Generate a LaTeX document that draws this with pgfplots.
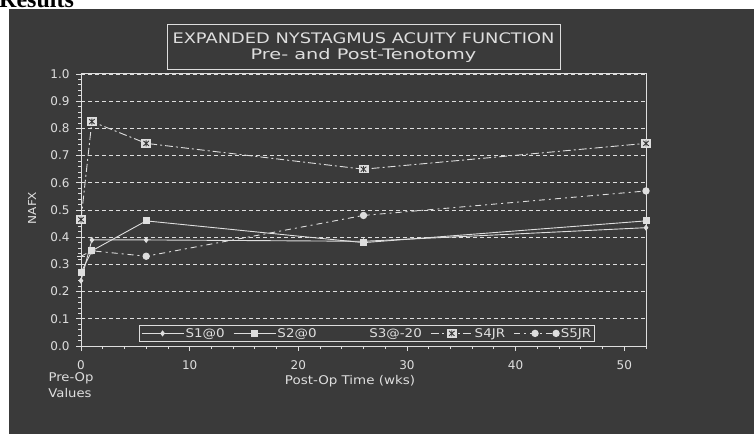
\documentclass[border=0pt]{standalone}
\usepackage{pgfplots}
\pgfplotsset{compat=1.18}
\usepackage{fontspec}
\setmainfont{DejaVu Sans}
\newfontfamily\resfont{Liberation Serif}
\definecolor{bg}{RGB}{58,58,58}
\definecolor{fg}{RGB}{222,222,222}

\pgfdeclareplotmark{boxx}{%
  \pgfpathrectangle{\pgfpoint{-\pgfplotmarksize}{-0.85\pgfplotmarksize}}{\pgfpoint{2\pgfplotmarksize}{1.7\pgfplotmarksize}}%
  \pgfusepath{fill}%
  \pgfsetdash{}{0pt}\pgfsetstrokecolor{bg}\pgfsetlinewidth{0.9pt}%
  \pgfpathmoveto{\pgfpoint{-0.55\pgfplotmarksize}{-0.5\pgfplotmarksize}}%
  \pgfpathlineto{\pgfpoint{0.55\pgfplotmarksize}{0.5\pgfplotmarksize}}%
  \pgfpathmoveto{\pgfpoint{-0.55\pgfplotmarksize}{0.5\pgfplotmarksize}}%
  \pgfpathlineto{\pgfpoint{0.55\pgfplotmarksize}{-0.5\pgfplotmarksize}}%
  \pgfpathmoveto{\pgfpoint{0pt}{-0.6\pgfplotmarksize}}%
  \pgfpathlineto{\pgfpoint{0pt}{0.6\pgfplotmarksize}}%
  \pgfusepath{stroke}%
}
\newcommand{\lt}[1]{\scalebox{1.12}[1]{#1}}

\begin{document}
\begin{tikzpicture}[x=1pt,y=1pt]
\useasboundingbox (0,0) rectangle (754,434);
\fill[white] (0,0) rectangle (754,434);
\node[anchor=base west, inner sep=0, font=\resfont\bfseries\fontsize{24}{24}\selectfont] at (-1,426) {Results};
\fill[bg] (9,0) rectangle (754,425);
% title box
\draw[fg, line width=1pt] (167,364) rectangle (560,409);
\node[fg, font=\fontsize{14.5}{14.5}\selectfont, inner sep=0] at (363.5,396) {\scalebox{1.23}[1]{EXPANDED NYSTAGMUS ACUITY FUNCTION}};
\node[fg, font=\fontsize{14.5}{14.5}\selectfont, inner sep=0] at (363.5,378) {\scalebox{1.33}[1]{Pre- and Post-Tenotomy}};
% outer labels
\node[fg, font=\fontsize{11}{11}\selectfont, rotate=90, inner sep=0] at (32,226) {\scalebox{1.1}[1]{NAFX}};
\node[fg, font=\fontsize{12}{12}\selectfont, inner sep=0] at (350,53) {\scalebox{1.12}[1]{Post-Op Time (wks)}};
\node[fg, font=\fontsize{12}{12}\selectfont, inner sep=0] at (71,55.5) {\scalebox{1.1}[1]{Pre-Op}};
\node[fg, font=\fontsize{12}{12}\selectfont, inner sep=0] at (70,41) {\scalebox{1.1}[1]{Values}};

\begin{axis}[
  at={(81pt,88pt)}, anchor=south west,
  scale only axis, width=565pt, height=272pt,
  xmin=0, xmax=52, ymin=0, ymax=1,
  clip=false,
  axis line style={fg, line width=1pt},
  xtick={0,10,20,30,40,50},
  minor xtick={2,4,6,8,12,14,16,18,22,24,26,28,32,34,36,38,42,44,46,48,52},
  ytick={0,0.1,0.2,0.3,0.4,0.5,0.6,0.7,0.8,0.9,1.0},
  minor y tick num=4,
  yticklabel style={/pgf/number format/fixed, /pgf/number format/fixed zerofill, /pgf/number format/precision=1, xshift=-3pt},
  /pgf/number format/assume math mode=true,
  tick align=outside, tick pos=left,
  major tick length=5pt, minor tick length=3pt,
  every tick/.style={fg, line width=0.8pt},
  ymajorgrids,
  major grid style={fg, dash pattern=on 4pt off 3pt, line width=0.9pt},
  tick label style={fg, font=\fontsize{12}{12}\selectfont},
  xticklabel style={yshift=-6pt},
  legend columns=5,
  legend image code/.code={\draw[mark repeat=2,mark phase=2,#1] plot coordinates {(0pt,0pt) (21pt,0pt) (42pt,0pt)};},
  legend style={at={(0.506,0.0147)}, anchor=south, fill=bg, draw=fg, line width=0.8pt,
    text=fg, font=\fontsize{12}{12}\selectfont, inner sep=1.5pt,
    /tikz/every even column/.append style={column sep=7pt},
    nodes={inner sep=1.5pt}},
]
\addplot[fg, line width=0.9pt, mark=diamond*, mark size=2.4pt, mark options={solid}]
  coordinates {(0,0.24)(1,0.39)(6,0.39)(26,0.385)(52,0.435)};
\addlegendentry{\lt{S1@0}}
\addplot[fg, line width=0.9pt, mark=square*, mark size=3pt, mark options={solid}]
  coordinates {(0,0.27)(1,0.35)(6,0.46)(26,0.38)(52,0.46)};
\addlegendentry{\lt{S2@0}}
\addlegendimage{draw opacity=0, fill opacity=0}
\addlegendentry{\lt{S3@-20}}
\addplot[fg, line width=0.9pt, dash pattern=on 8pt off 3pt on 2pt off 3pt, mark=boxx, mark size=5pt, mark options={solid}]
  coordinates {(0,0.465)(1,0.825)(6,0.745)(26,0.65)(52,0.745)};
\addlegendentry{\lt{S4JR}}
\addplot[fg, line width=0.9pt, dash pattern=on 6pt off 4pt on 2pt off 4pt, mark=*, mark size=3.2pt, mark options={solid}, mark indices={2,3,4,5}]
  coordinates {(0,0.33)(1,0.35)(6,0.33)(26,0.48)(52,0.57)};
\addlegendentry{\lt{S5JR}}
\addplot[fg, only marks, mark=-, mark size=4pt, line width=1pt, forget plot]
  coordinates {(0,0.33)};
\end{axis}
\end{tikzpicture}
\end{document}
